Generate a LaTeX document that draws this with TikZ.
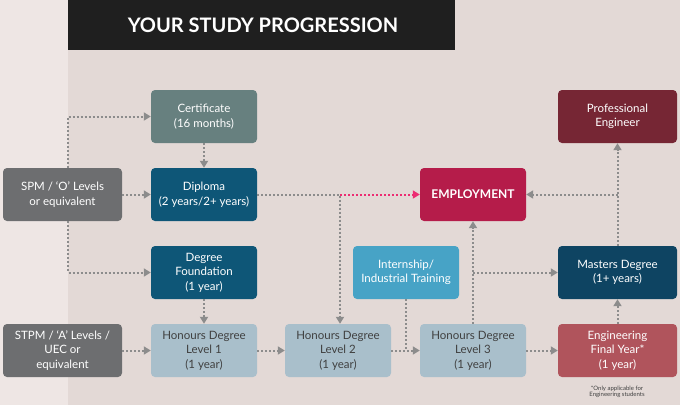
\documentclass[tikz,border=0pt]{standalone}
\usepackage{fontspec}
\setmainfont{Lato}
\usetikzlibrary{arrows.meta}
\definecolor{bgA}{HTML}{EEE6E4}
\definecolor{bgB}{HTML}{E3D9D6}
\definecolor{cgray}{HTML}{6D6E70}
\definecolor{ccert}{HTML}{67807F}
\definecolor{cdip}{HTML}{0E5677}
\definecolor{chd}{HTML}{A9BFCB}
\definecolor{cint}{HTML}{47A3C6}
\definecolor{cemp}{HTML}{B51C4A}
\definecolor{cmas}{HTML}{0E4462}
\definecolor{cpro}{HTML}{762634}
\definecolor{ceng}{HTML}{B0545C}
\definecolor{carr}{HTML}{8C8C8C}
\definecolor{cpink}{HTML}{EC2C72}
\tikzset{
 box/.style={rounded corners=4pt,minimum height=53pt,text=white,align=center,font=\fontsize{11.5}{14.5}\selectfont,inner sep=1pt},
 nar/.style={box,minimum width=106pt},
 wid/.style={box,minimum width=119pt},
 hd/.style={nar,fill=chd,text=black!75},
 conn/.style={draw=carr,line width=2pt,dotted,-{Triangle[length=7pt,width=8pt,fill=carr]}},
 connp/.style={conn,draw=cpink,-{Triangle[length=7pt,width=8pt,fill=cpink]}},
 plain/.style={draw=carr,line width=2pt,dotted}
}
\begin{document}
\begin{tikzpicture}[x=1pt,y=-1pt]
\fill[bgB] (0,0) rectangle (680,405);
\fill[bgA] (0,0) rectangle (68,405);
\fill[black!88] (68,0) rectangle (455,50);
\node[text=white,font=\fontsize{20}{24}\bfseries\selectfont] (title) at (263,25) {YOUR STUDY PROGRESSION};
\node[wid,fill=cgray] (spm) at (62.5,194.5) {SPM / ‘O’ Levels\\or equivalent};
\node[wid,fill=cgray] (stpm) at (62.5,350.5) {STPM / ‘A’ Levels /\\UEC or\\equivalent};
\node[nar,fill=ccert] (cert) at (204,116.5) {Certificate\\(16 months)};
\node[nar,fill=cdip] (dip) at (204,194.5) {Diploma\\(2 years/2+ years)};
\node[nar,fill=cdip] (fnd) at (204,272.5) {Degree\\Foundation\\(1 year)};
\node[hd] (h1) at (204,350.5) {Honours Degree\\Level 1\\(1 year)};
\node[hd] (h2) at (338,350.5) {Honours Degree\\Level 2\\(1 year)};
\node[hd] (h3) at (473,350.5) {Honours Degree\\Level 3\\(1 year)};
\node[nar,fill=cint] (int) at (406,272.5) {Internship/\\Industrial Training};
\node[nar,fill=cemp,font=\fontsize{12}{14}\bfseries\selectfont] (emp) at (473,194.5) {EMPLOYMENT};
\node[wid,fill=cpro] (pro) at (617.5,116.5) {Professional\\Engineer};
\node[wid,fill=cmas] (mas) at (617.5,272.5) {Masters Degree\\(1+ years)};
\node[wid,fill=ceng] (eng) at (617.5,350.5) {Engineering\\Final Year*\\(1 year)};
\node[text=black!75,align=center,font=\fontsize{6}{6.5}\selectfont] (note) at (617,392) {*Only applicable for\\Engineering students};
\coordinate (j1) at (340,194.5);
\coordinate (j2) at (406,350.5);
\coordinate (j3) at (473,272.5);
\coordinate (j4) at (617.5,194.5);
\draw[conn] (spm.north -| 68,0) |- (cert.west);
\draw[conn] (spm.south -| 68,0) |- (fnd.west);
\draw[conn] (spm) -- (dip);
\draw[conn] (cert) -- (dip);
\draw[conn] (fnd) -- (h1);
\draw[conn] (dip.east) -| (h2.north -| j1);
\draw[connp] (j1) -- (emp.west);
\draw[conn] (stpm) -- (h1);
\draw[conn] (h1) -- (h2);
\draw[conn] (h2) -- (h3);
\draw[plain] (int.south) -- (j2);
\draw[conn] (h3) -- (emp);
\draw[conn] (j3) -- (mas.west);
\draw[conn] (h3) -- (eng);
\draw[conn] (eng) -- (mas);
\draw[conn] (mas) -- (pro);
\draw[conn] (j4) -- (emp.east);
\end{tikzpicture}
\end{document}
